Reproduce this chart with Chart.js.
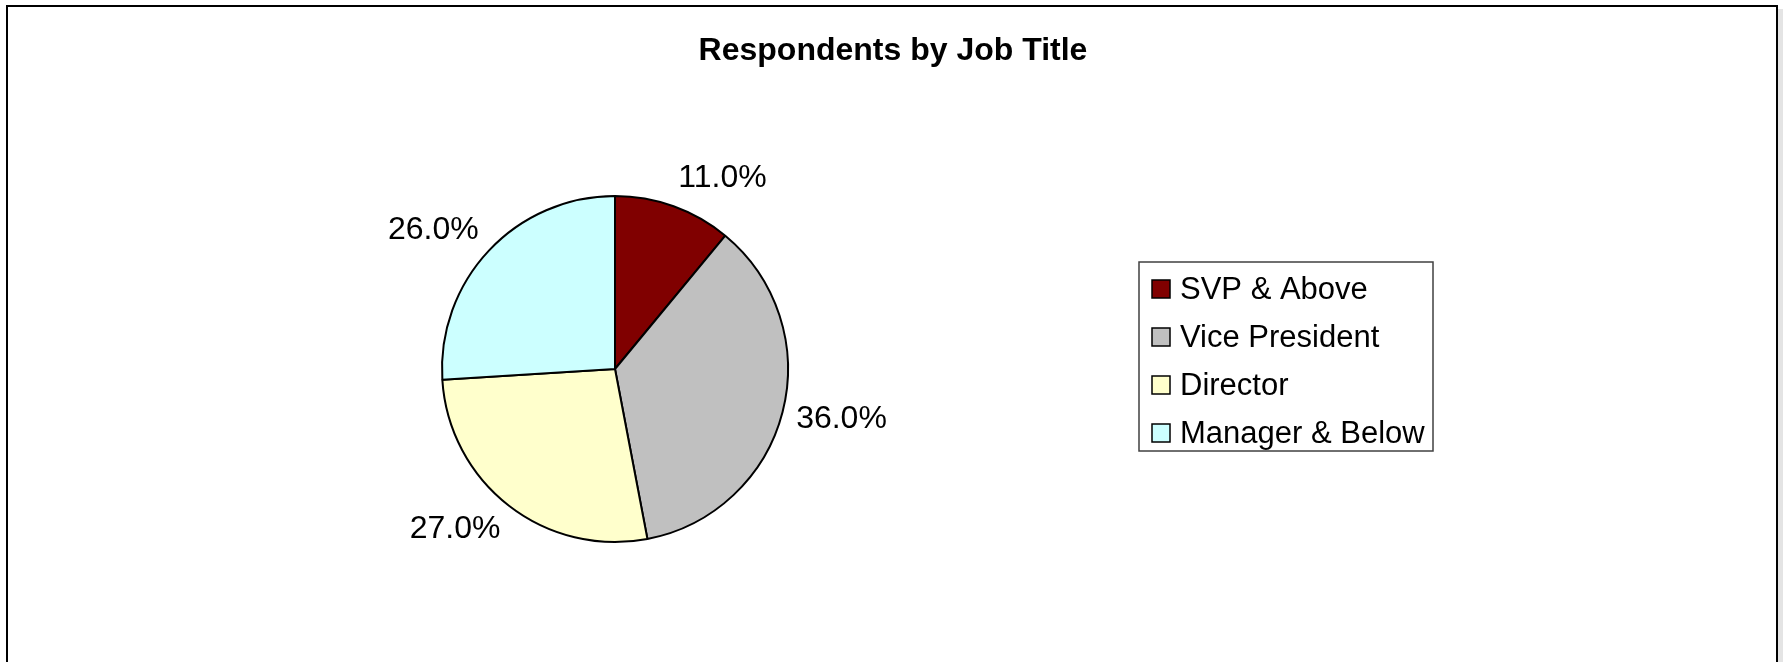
<!DOCTYPE html>
<html>
<head>
<meta charset="utf-8">
<title>Respondents by Job Title</title>
<script src="https://cdn.jsdelivr.net/npm/chart.js@4/dist/chart.umd.min.js"></script>
<style>
    html, body { margin: 0; padding: 0; background: #ffffff; }
    #job-chart { display: block; }
</style>
</head>
<body>
<canvas id="job-chart" width="1783" height="662"></canvas>
<script>
const chartTitle = 'Respondents by Job Title';
const jobTitles = ['SVP & Above', 'Vice President', 'Director', 'Manager & Below'];
const shares = [11.0, 36.0, 27.0, 26.0];
const sliceColors = ['#800000', '#C0C0C0', '#FFFFCC', '#CCFFFF'];

const FONT = 'Arial, "Liberation Sans", Helvetica, sans-serif';

const jobChart = (function () {
    function getChartData() {
        let chartData = {
            labels: jobTitles,
            datasets: [{
                label: 'Respondents',
                data: shares,
                backgroundColor: sliceColors,
                borderColor: '#000000',
                borderWidth: 2,
            }]
        };

        return chartData;
    }

    // frame + title, drawn behind the pie
    const framePlugin = {
        id: 'frame',
        beforeDraw(chart) {
            const ctx = chart.ctx;
            ctx.save();
            ctx.fillStyle = '#ffffff';
            ctx.fillRect(0, 0, chart.width, chart.height);
            ctx.fillStyle = '#e4e4e4';
            ctx.fillRect(1778, 9, 5, chart.height);
            ctx.strokeStyle = '#000000';
            ctx.lineWidth = 2;
            ctx.strokeRect(7, 6, 1770, chart.height + 10);

            ctx.fillStyle = '#000000';
            ctx.font = 'bold 32px ' + FONT;
            ctx.textAlign = 'center';
            ctx.textBaseline = 'middle';
            ctx.fillText(chartTitle, 893, 51);
            ctx.restore();
        }
    };

    // percent labels outside the slices, Excel style
    const labelPlugin = {
        id: 'sliceLabels',
        afterDatasetsDraw(chart) {
            const ctx = chart.ctx;
            const meta = chart.getDatasetMeta(0);
            ctx.save();
            ctx.fillStyle = '#000000';
            ctx.font = '32px ' + FONT;
            ctx.textBaseline = 'middle';
            meta.data.forEach(function (arc, i) {
                const p = arc.getProps(['x', 'y', 'startAngle', 'endAngle', 'outerRadius'], true);
                const mid = (p.startAngle + p.endAngle) / 2;
                const dx = Math.cos(mid);
                const dy = Math.sin(mid);
                const dist = p.outerRadius + 14;
                const px = p.x + dx * dist;
                const py = p.y + dy * dist;
                ctx.textAlign = dx >= 0 ? 'left' : 'right';
                ctx.fillText(shares[i].toFixed(1) + '%', px, py + dy * 16);
            });
            ctx.restore();
        }
    };

    // boxed legend on the right
    const legendPlugin = {
        id: 'boxLegend',
        afterDraw(chart) {
            const ctx = chart.ctx;
            const left = 1139, top = 262, width = 294, height = 189;
            ctx.save();
            ctx.fillStyle = '#ffffff';
            ctx.fillRect(left, top, width, height);
            ctx.strokeStyle = '#404040';
            ctx.lineWidth = 1.5;
            ctx.strokeRect(left, top, width, height);

            ctx.font = '31px ' + FONT;
            ctx.textAlign = 'left';
            ctx.textBaseline = 'middle';
            chart.data.labels.forEach(function (label, i) {
                const cy = top + 27 + i * 48;
                ctx.fillStyle = sliceColors[i];
                ctx.fillRect(1152, cy - 9, 18, 18);
                ctx.strokeStyle = '#000000';
                ctx.lineWidth = 1.5;
                ctx.strokeRect(1152, cy - 9, 18, 18);
                ctx.fillStyle = '#000000';
                ctx.fillText(label, 1180, cy + 1);
            });
            ctx.restore();
        }
    };

    function config(chartEle, chartData) {
        const config = {
            type: 'pie',
            data: chartData,
            options: {
                responsive: false,
                animation: false,
                devicePixelRatio: 1,
                layout: {
                    padding: { left: 441, right: 994, top: 195, bottom: 119 }
                },
                plugins: {
                    legend: { display: false },
                    title: { display: false },
                    tooltip: { enabled: false }
                }
            },
            plugins: [framePlugin, labelPlugin, legendPlugin]
        };

        var pieChart = new Chart(chartEle, config);
    }

    return {
        configureChart: function () {
            const chartEle = document.getElementById('job-chart');
            config(chartEle, getChartData());
        }
    }
})();

jobChart.configureChart();
</script>
</body>
</html>
